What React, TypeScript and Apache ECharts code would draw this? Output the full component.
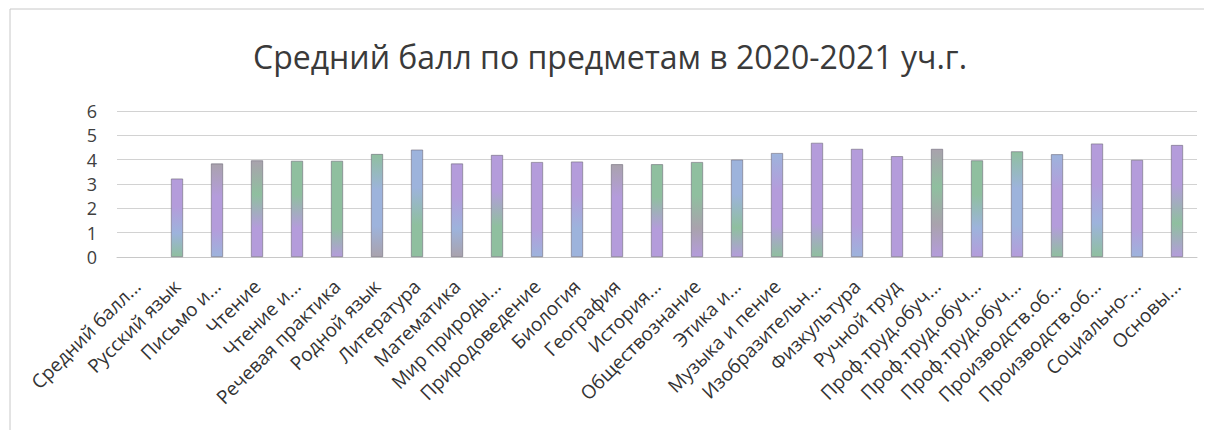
import React, { useEffect, useRef } from "react";
import * as echarts from "echarts";

const titleText = "Средний балл по предметам в 2020-2021 уч.г.";

const categories = [
  "Средний балл...",
  "Русский язык",
  "Письмо и...",
  "Чтение",
  "Чтение и...",
  "Речевая практика",
  "Родной язык",
  "Литература",
  "Математика",
  "Мир природы...",
  "Природоведение",
  "Биология",
  "География",
  "История...",
  "Обществознание",
  "Этика и...",
  "Музыка и пение",
  "Изобразительн...",
  "Физкультура",
  "Ручной труд",
  "Проф.труд.обуч...",
  "Проф.труд.обуч...",
  "Проф.труд.обуч...",
  "Производств.об...",
  "Производств.об...",
  "Социально-...",
  "Основы...",
];

// first category has no bar
const values: (number | null)[] = [
  null, 3.22, 3.84, 3.97, 3.95, 3.95, 4.23, 4.41, 3.84, 4.19, 3.9, 3.92, 3.81,
  3.81, 3.9, 4.0, 4.27, 4.69, 4.44, 4.14, 4.44, 3.97, 4.34, 4.22, 4.66, 3.99,
  4.6,
];

const yTicks = [0, 1, 2, 3, 4, 5, 6];

const P = "#b49cdb";
const G = "#8fbf9f";
const B = "#9db3dc";
const Y = "#a9a2ad";

const barColors: string[][] = [
  [P, P, P, P],
  [P, P, B, G],
  [Y, P, P, B],
  [Y, G, P, P],
  [G, G, P, P],
  [G, G, G, P],
  [G, B, B, Y],
  [B, B, G, G],
  [P, P, B, Y],
  [P, P, G, G],
  [P, P, P, B],
  [P, P, B, B],
  [Y, P, P, P],
  [G, G, P, P],
  [G, G, Y, P],
  [B, B, G, P],
  [B, P, P, G],
  [P, P, P, G],
  [P, P, P, B],
  [P, P, P, P],
  [Y, G, Y, P],
  [G, G, B, P],
  [G, B, B, P],
  [B, P, P, G],
  [P, P, B, G],
  [P, P, P, B],
  [P, P, G, P],
];

function App() {
  const ref = useRef<HTMLDivElement>(null);
  useEffect(() => {
    if (!ref.current) return;
    const chart = echarts.init(ref.current, undefined, { renderer: "svg" });
    const data = values.map((v, i) => {
      const c = barColors[i % barColors.length];
      return {
        value: v === null ? "-" : v,
        itemStyle: {
          color: new echarts.graphic.LinearGradient(0, 0, 0, 1, [
            { offset: 0, color: c[0] },
            { offset: 0.35, color: c[1] },
            { offset: 0.7, color: c[2] },
            { offset: 1, color: c[3] },
          ]),
          borderColor: "#6f6a78",
          borderWidth: 0.6,
        },
      };
    });
    chart.setOption({
      animation: false,
      backgroundColor: "#ffffff",
      title: {
        text: titleText,
        left: "center",
        top: 27,
        textStyle: {
          fontFamily: "Open Sans",
          fontSize: 32,
          fontWeight: "normal",
          color: "#3a3a3a",
        },
      },
      graphic: [
        {
          type: "line",
          shape: { x1: 2, y1: 1, x2: 1204, y2: 1 },
          style: { stroke: "#c8c8c8", lineWidth: 1 },
        },
        {
          type: "line",
          shape: { x1: 2, y1: 1, x2: 2, y2: 422 },
          style: { stroke: "#c8c8c8", lineWidth: 1 },
        },
      ],
      grid: { left: 109, right: 15, top: 103, bottom: 173 },
      xAxis: {
        type: "category",
        data: categories,
        axisLine: { show: true, lineStyle: { color: "#c8c8c8" } },
        axisTick: { show: false },
        axisLabel: {
          interval: 0,
          rotate: 45,
          margin: 26,
          fontFamily: "Open Sans",
          fontSize: 19,
          color: "#333333",
        },
      },
      yAxis: {
        type: "value",
        min: 0,
        max: 6,
        interval: 1,
        axisLine: { show: false },
        axisTick: { show: false },
        axisLabel: {
          margin: 20,
          fontFamily: "Open Sans",
          fontSize: 18,
          color: "#404040",
          formatter: (v: number) => (yTicks.includes(v) ? String(v) : ""),
        },
        splitLine: { lineStyle: { color: "#d2d2d2", width: 1 } },
      },
      series: [
        {
          type: "bar",
          data,
          barWidth: 12,
        },
      ],
    });
    return () => chart.dispose();
  }, []);
  return <div ref={ref} style={{ width: 1204, height: 422 }} />;
}

export default App;
